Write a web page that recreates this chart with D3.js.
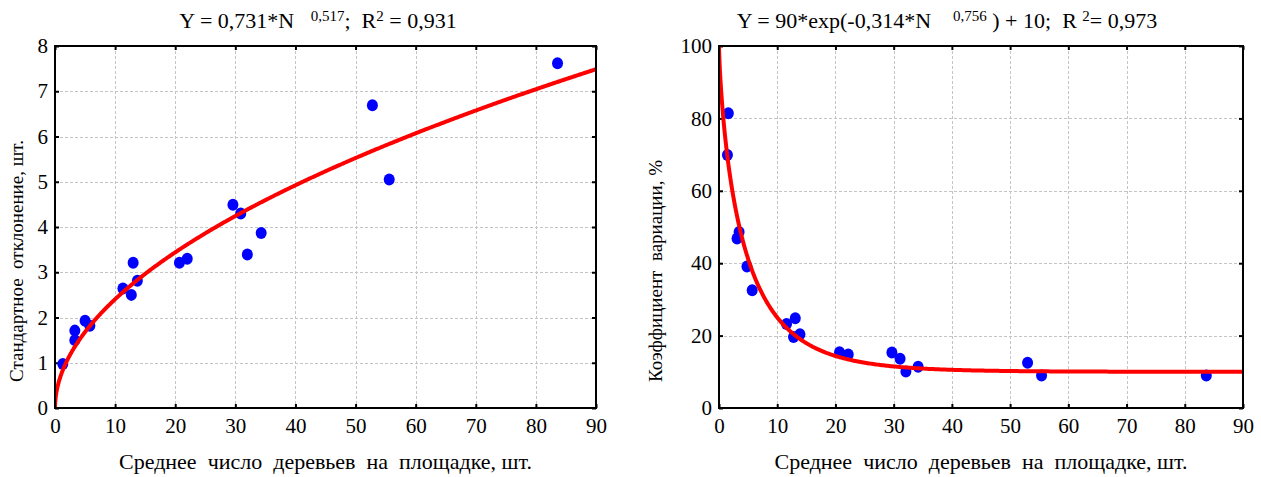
<!DOCTYPE html>
<html>
<head>
<meta charset="utf-8">
<script src="https://cdn.jsdelivr.net/npm/d3@7"></script>
<style>
  html, body { margin: 0; padding: 0; background: #fff; }
  svg text { font-family: "Liberation Serif", "Times New Roman", Times, "DejaVu Serif", serif !important; white-space: pre; fill: #000; }
</style>
</head>
<body>
<svg id="chart" width="1261" height="477"></svg>
<script>
// Mean number of trees per plot (N) and the standard deviation of counts
const sdN  = [1.3, 3.3, 3.3, 5.0, 5.8, 11.3, 12.7, 13.0, 13.7, 20.7, 22.0, 29.6, 30.9, 32.0, 34.3, 52.8, 55.6, 83.6];
const sdV  = [0.97, 1.50, 1.71, 1.93, 1.82, 2.64, 2.50, 3.21, 2.81, 3.21, 3.30, 4.49, 4.30, 3.39, 3.87, 6.69, 5.05, 7.62];

// Mean number of trees per plot (N) and the coefficient of variation, %
const cvN  = [1.6, 1.45, 3.1, 3.45, 4.8, 5.7, 11.6, 12.8, 13.1, 13.9, 20.7, 22.2, 29.7, 31.1, 32.1, 34.2, 53.0, 55.4, 83.7];
const cvV  = [81.4, 69.9, 46.8, 48.6, 39.1, 32.5, 23.2, 19.6, 24.8, 20.4, 15.4, 14.8, 15.3, 13.6, 10.1, 11.4, 12.5, 9.0, 9.0];

// Fitted model coefficients
const powFit = [0.731, 0.517];          // Y = a * N^b
const expFit = [90, 0.314, 0.756, 10];  // Y = a * exp(-b * N^c) + d

// Axis ticks
const xTicks   = [0, 10, 20, 30, 40, 50, 60, 70, 80, 90];
const sdTicks  = [0, 1, 2, 3, 4, 5, 6, 7, 8];
const cvTicks  = [0, 20, 40, 60, 80, 100];

// Axis titles
const xTitle   = "Среднее  число  деревьев  на  площадке, шт.";
const sdTitle  = "Стандартное  отклонение, шт.";
const cvTitle  = "Коэффициент  вариации, %";

const svg = d3.select("#chart");

// Sample points along N for drawing the fitted curves (denser near zero)
const curveN = d3.range(0, 1.0001, 0.0025).map(t => 90 * Math.pow(t, 2));

function panel(opt) {
  const g = svg.append("g");
  const x = d3.scaleLinear().domain([0, 90]).range([opt.left, opt.right]);
  const y = d3.scaleLinear().domain(opt.yDomain).range([opt.bottom, opt.top]);
  const w = opt.right - opt.left, h = opt.bottom - opt.top;

  const clipId = "clip" + opt.id;
  svg.append("clipPath").attr("id", clipId)
    .append("rect").attr("x", opt.left).attr("y", opt.top).attr("width", w).attr("height", h);

  // Grid lines
  const grid = g.append("g").attr("stroke", "#c4c4c4").attr("stroke-width", 1).attr("stroke-dasharray", "3,2");
  grid.selectAll("line.vx").data(xTicks.slice(1, -1)).join("line")
    .attr("x1", d => Math.round(x(d)) + 0.5).attr("x2", d => Math.round(x(d)) + 0.5)
    .attr("y1", opt.top).attr("y2", opt.bottom);
  grid.selectAll("line.hy").data(opt.yTicks.slice(1, -1)).join("line")
    .attr("y1", d => Math.round(y(d)) + 0.5).attr("y2", d => Math.round(y(d)) + 0.5)
    .attr("x1", opt.left).attr("x2", opt.right);

  // Axes with inward ticks on all four sides
  const bottom = g.append("g").attr("transform", `translate(0,${opt.bottom})`)
    .call(d3.axisBottom(x).tickValues(xTicks).tickSizeInner(-4).tickSizeOuter(0).tickPadding(9));
  const top = g.append("g").attr("transform", `translate(0,${opt.top})`)
    .call(d3.axisTop(x).tickValues(xTicks).tickSizeInner(-4).tickSizeOuter(0).tickFormat(""));
  const left = g.append("g").attr("transform", `translate(${opt.left},0)`)
    .call(d3.axisLeft(y).tickValues(opt.yTicks).tickSizeInner(-4).tickSizeOuter(0).tickPadding(7));
  const right = g.append("g").attr("transform", `translate(${opt.right},0)`)
    .call(d3.axisRight(y).tickValues(opt.yTicks).tickSizeInner(-4).tickSizeOuter(0).tickFormat(""));
  [bottom, top, left, right].forEach(a => {
    a.attr("font-family", null).attr("font-size", null);
    a.select(".domain").remove();
    a.selectAll(".tick line").attr("stroke", "#000").attr("stroke-width", 2);
    a.selectAll("text").style("font-size", "21px");
  });
  bottom.selectAll("text").attr("dy", "0.75em");

  // Data points
  g.append("g").attr("clip-path", `url(#${clipId})`)
    .selectAll("ellipse").data(opt.xs.map((v, i) => [v, opt.ys[i]])).join("ellipse")
    .attr("cx", d => x(d[0])).attr("cy", d => y(d[1]))
    .attr("rx", 5.5).attr("ry", 6).attr("fill", "#0000ff");

  // Fitted curve
  const line = d3.line().x(d => x(d[0])).y(d => y(d[1]));
  g.append("path").attr("clip-path", `url(#${clipId})`)
    .datum(curveN.map(n => [n, opt.fit(n)]))
    .attr("d", line).attr("fill", "none").attr("stroke", "#ff0000").attr("stroke-width", 4);

  // Frame
  g.append("rect").attr("x", opt.left).attr("y", opt.top).attr("width", w).attr("height", h)
    .attr("fill", "none").attr("stroke", "#000").attr("stroke-width", 2);

  // Axis titles
  g.append("text").attr("x", (opt.left + opt.right) / 2).attr("y", 469)
    .attr("text-anchor", "middle").style("font-size", "22px").text(xTitle);
  g.append("text").attr("transform", `translate(${opt.yLabelX},${opt.yLabelY}) rotate(-90)`)
    .attr("text-anchor", "middle").style("font-size", "19px").text(opt.yTitle);

  // Equation title
  const t = g.append("text").attr("x", opt.titleX).attr("y", 28)
    .attr("text-anchor", "middle").style("font-size", "22px");
  opt.titleParts.forEach(p => {
    const s = t.append("tspan").text(p[0]);
    if (p[1]) s.style("font-size", "15px").attr("baseline-shift", "7px");
  });
}

panel({
  id: "sd", left: 55, right: 596, top: 46, bottom: 408,
  yDomain: [0, 8], yTicks: sdTicks,
  xs: sdN, ys: sdV,
  fit: n => powFit[0] * Math.pow(n, powFit[1]),
  yTitle: sdTitle, yLabelX: 23, yLabelY: 261,
  titleX: 318,
  titleParts: [["Y = 0,731*N   ", false], ["0,517", true], [";  R", false], ["2", true], [" = 0,931", false]]
});

panel({
  id: "cv", left: 719, right: 1243, top: 46, bottom: 408,
  yDomain: [0, 100], yTicks: cvTicks,
  xs: cvN, ys: cvV,
  fit: n => expFit[0] * Math.exp(-expFit[1] * Math.pow(n, expFit[2])) + expFit[3],
  yTitle: cvTitle, yLabelX: 662, yLabelY: 271,
  titleX: 947,
  titleParts: [["Y = 90*exp(-0,314*N    ", false], ["0,756", true], [" ) + 10;  R ", false], ["2", true], ["= 0,973", false]]
});
</script>
</body>
</html>
